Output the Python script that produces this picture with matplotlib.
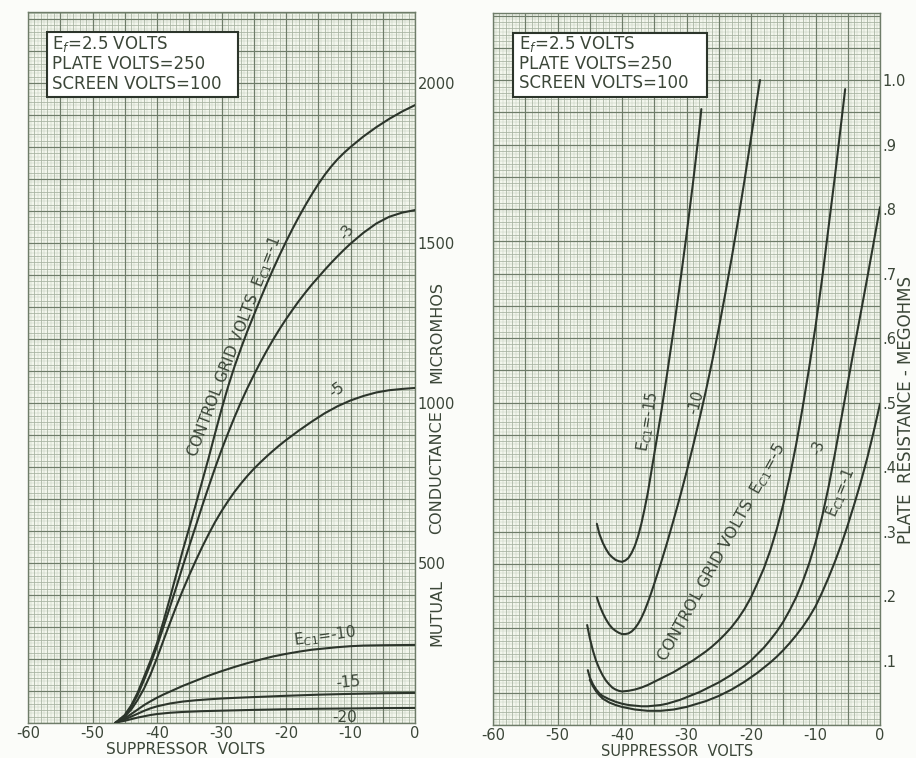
import numpy as np
import matplotlib
matplotlib.use("Agg")
import matplotlib.pyplot as plt
from matplotlib.patches import Rectangle

# --- data --------------------------------------------------------------
# left: mutual conductance (micromhos) vs suppressor volts, one curve per Ec1
gm_m1_x = [-46.5, -46, -45, -44, -43, -42, -41, -40, -39, -38, -37, -36, -35, -34, -33, -32, -31, -30,
           -29, -28, -27, -26, -25, -24, -23, -22, -21, -20, -19, -18, -17, -16, -15, -14, -13, -12,
           -11, -10, -8, -6, -4, -2, 0]
gm_m1_y = [0, 8, 25, 55, 95, 145, 195, 250, 318, 390, 465, 540, 610, 682, 755, 828, 905, 980,
           1050, 1113, 1170, 1224, 1274, 1324, 1372, 1418, 1462, 1504, 1544, 1582, 1618, 1652, 1684, 1713, 1739, 1762,
           1782, 1800, 1833, 1862, 1888, 1911, 1931]
gm_m3_x = [-46.5, -46, -45, -44, -43, -42, -41, -40, -39, -38, -37, -36, -35, -34, -33, -32, -31, -30,
           -29, -28, -27, -26, -25, -24, -23, -22, -21, -20, -19, -18, -17, -16, -15, -14, -13, -12,
           -11, -10, -8, -6, -4, -2, 0]
gm_m3_y = [0, 7, 22, 50, 88, 135, 185, 240, 300, 362, 425, 490, 553, 615, 678, 738, 797, 853,
           905, 955, 1002, 1046, 1087, 1126, 1163, 1198, 1231, 1262, 1291, 1319, 1345, 1370, 1393, 1416, 1438, 1459,
           1479, 1498, 1532, 1561, 1582, 1595, 1603]
gm_m5_x = [-46.5, -46, -45, -44, -43, -42, -41, -40, -39, -38, -37, -36, -35, -34, -33, -32, -31, -30,
           -29, -28, -27, -26, -25, -24, -23, -22, -21, -20, -18, -16, -14, -12, -10, -8, -6, -4, -2, 0]
gm_m5_y = [0, 6, 20, 42, 72, 108, 152, 203, 258, 312, 365, 415, 462, 507, 550, 590, 628, 662,
           693, 722, 748, 772, 794, 814, 833, 851, 868, 884, 914, 942, 968, 990, 1008, 1022, 1033, 1040, 1044, 1047]
gm_m10_x = [-46.5, -46, -45, -44, -43, -42, -41, -40, -39, -38, -37, -36, -35, -34, -33, -32, -31, -30,
            -28, -26, -24, -22, -20, -18, -16, -14, -12, -10, -8, -5, 0]
gm_m10_y = [0, 5, 15, 28, 42, 56, 68, 79, 89, 98, 107, 116, 124, 132, 140, 148, 155, 162,
            175, 187, 198, 208, 216, 223, 229, 233, 237, 240, 242, 243, 244]
gm_m15_x = [-46.5, -46, -45, -44, -43, -42, -41, -40, -38, -36, -34, -32, -30, -28, -25, -20, -15, -10, -5, 0]
gm_m15_y = [0, 4, 11, 20, 29, 38, 46, 52, 61, 67, 71, 74, 76.5, 78.5, 81, 85, 88.5, 91, 93, 94]
gm_m20_x = [-46.5, -46, -45, -44, -43, -42, -41, -40, -38, -36, -33, -30, -25, -20, -15, -10, -5, 0]
gm_m20_y = [0, 3, 7, 12, 17, 21, 25, 28, 32, 34.5, 37, 38.5, 41, 43, 44.5, 45.5, 46.5, 47]

# right: plate resistance (megohms) vs suppressor volts, one curve per Ec1
rp_m15_x = [-43.9, -43.5, -43, -42.5, -42, -41.5, -41, -40.5, -40, -39.5, -39, -38.5, -38, -37.5, -37,
            -36.5, -36, -35.5, -35, -34, -33, -32, -31, -30, -29, -28, -27.7]
rp_m15_y = [0.312, 0.296, 0.283, 0.273, 0.265, 0.26, 0.256, 0.254, 0.253, 0.255, 0.259, 0.267, 0.278, 0.293, 0.312,
            0.335, 0.36, 0.39, 0.42, 0.48, 0.545, 0.613, 0.685, 0.76, 0.84, 0.925, 0.955]
rp_m10_x = [-43.9, -43.5, -43, -42.5, -42, -41.5, -41, -40.5, -40, -39.5, -39, -38.5, -38, -37.5, -37,
            -36.5, -36, -35.5, -35, -34, -33, -32, -31, -30, -29, -28, -27, -26, -25, -24, -23, -22,
            -21, -20, -19, -18.6]
rp_m10_y = [0.198, 0.186, 0.174, 0.164, 0.156, 0.15, 0.146, 0.143, 0.141, 0.141, 0.142, 0.145, 0.15, 0.157, 0.166,
            0.177, 0.19, 0.204, 0.219, 0.25, 0.283, 0.318, 0.354, 0.392, 0.432, 0.474, 0.518, 0.565, 0.615, 0.668, 0.724, 0.783,
            0.845, 0.91, 0.975, 1.0]
rp_m5_x = [-45.4, -45, -44.5, -44, -43.5, -43, -42.5, -42, -41.5, -41, -40.5, -40, -39, -38, -37, -36, -35,
           -34, -33, -32, -31, -30, -29, -28, -27, -26, -25, -24, -23, -22, -21, -20, -19, -18, -17, -16,
           -15, -14, -13, -12, -11, -10, -9, -8, -7, -6, -5.4]
rp_m5_y = [0.155, 0.135, 0.115, 0.099, 0.087, 0.077, 0.069, 0.063, 0.058, 0.055, 0.053, 0.052, 0.053, 0.055, 0.058, 0.062, 0.067,
           0.072, 0.077, 0.082, 0.088, 0.094, 0.1, 0.107, 0.114, 0.122, 0.131, 0.141, 0.152, 0.165, 0.18, 0.198, 0.22, 0.243, 0.271, 0.304,
           0.342, 0.385, 0.435, 0.492, 0.553, 0.618, 0.69, 0.77, 0.85, 0.935, 0.986]
rp_m3_x = [-45.3, -45, -44.5, -44, -43.5, -43, -42, -41, -40, -39, -38, -37, -36, -35, -34, -33, -32, -31,
           -30, -29, -28, -27, -26, -25, -24, -23, -22, -21, -20, -19, -18, -17, -16, -15, -14, -13, -12,
           -11, -10, -9, -8, -7, -6, -5, -4, -3, -2, -1, 0]
rp_m3_y = [0.085, 0.074, 0.063, 0.055, 0.049, 0.045, 0.04, 0.036, 0.033, 0.031, 0.03, 0.029, 0.029, 0.03, 0.031, 0.033, 0.036, 0.039,
           0.043, 0.047, 0.051, 0.056, 0.061, 0.066, 0.072, 0.078, 0.085, 0.092, 0.1, 0.11, 0.12, 0.132, 0.145, 0.16, 0.178, 0.198, 0.222,
           0.25, 0.283, 0.322, 0.368, 0.42, 0.475, 0.53, 0.585, 0.638, 0.692, 0.747, 0.803]
rp_m1_x = [-45, -44.5, -44, -43.5, -43, -42, -41, -40, -39, -38, -37, -36, -35, -34, -33, -32, -31, -30,
           -29, -28, -27, -26, -25, -24, -23, -22, -21, -20, -19, -18, -17, -16, -15, -14, -13, -12, -11,
           -10, -9, -8, -7, -6, -5, -4, -3, -2, -1, 0]
rp_m1_y = [0.07, 0.06, 0.052, 0.046, 0.041, 0.035, 0.031, 0.028, 0.026, 0.024, 0.023, 0.022, 0.022, 0.022, 0.023, 0.024, 0.026, 0.028,
           0.031, 0.034, 0.037, 0.041, 0.045, 0.05, 0.055, 0.061, 0.067, 0.074, 0.081, 0.089, 0.097, 0.106, 0.116, 0.127, 0.139, 0.152, 0.167,
           0.184, 0.205, 0.228, 0.253, 0.28, 0.31, 0.342, 0.376, 0.413, 0.454, 0.498]

x_ticks = [-60, -50, -40, -30, -20, -10, 0]
gm_ticks = [500, 1000, 1500, 2000]
rp_ticks = [0.1, 0.2, 0.3, 0.4, 0.5, 0.6, 0.7, 0.8, 0.9, 1.0]
rp_labels = ['.1', '.2', '.3', '.4', '.5', '.6', '.7', '.8', '.9', '1.0']
box_lines = ['E$_f$=2.5 VOLTS', 'PLATE VOLTS=250', 'SCREEN VOLTS=100']

INK = '#2c352b'
TXT = '#3b4638'
PAPER = '#f3f6ed'
FINE = '#c4cebd'
MED = '#a5b19f'
HEAVY = '#6e7c69'

plt.rcParams['font.family'] = ['DejaVu Sans']

fig = plt.figure(figsize=(9.16, 7.58), dpi=100, facecolor='#fbfcf9')
axL = fig.add_axes([28 / 916, 1 - 723 / 758, 387 / 916, 711 / 758])
axR = fig.add_axes([493 / 916, 1 - 725 / 758, 387 / 916, 712 / 758])


def graph_paper(ax, ytop, ystep):
    ax.set_facecolor(PAPER)
    ax.set_xlim(-60, 0)
    ax.set_ylim(0, ytop)
    xs = np.arange(-60, 0.01, 0.5)
    ys = np.arange(0, ytop, ystep / 2)
    for i, x in enumerate(xs):
        if i % 10 == 0:
            ax.axvline(x, color=HEAVY, lw=0.9, zorder=1)
        elif i % 2 == 0:
            ax.axvline(x, color=MED, lw=0.55, zorder=0.8)
        else:
            ax.axvline(x, color=FINE, lw=0.35, zorder=0.6)
    for i, y in enumerate(ys):
        if i % 10 == 0:
            ax.axhline(y, color=HEAVY, lw=0.9, zorder=1)
        elif i % 2 == 0:
            ax.axhline(y, color=MED, lw=0.55, zorder=0.8)
        else:
            ax.axhline(y, color=FINE, lw=0.35, zorder=0.6)
    for s in ax.spines.values():
        s.set_color(HEAVY)
        s.set_linewidth(1.0)
    ax.set_xticks(x_ticks)
    ax.set_xticklabels(['%d' % t for t in x_ticks])
    ax.yaxis.tick_right()
    ax.tick_params(length=0, labelsize=10.5, labelcolor=TXT, pad=2)


def text_box(ax, bx, by, bw, bh, tx, tys):
    ax.add_patch(Rectangle((bx, by), bw, bh, transform=ax.transAxes,
                           facecolor='white', edgecolor=INK, lw=1.5, zorder=5))
    for line, ty in zip(box_lines, tys):
        ax.text(tx, ty, line, transform=ax.transAxes, fontsize=12,
                color=TXT, va='center', ha='left', zorder=6)


def curve(ax, xs_, ys_):
    ax.plot(xs_, ys_, color=INK, lw=1.5, zorder=3,
            solid_capstyle='round', solid_joinstyle='round')


# ---- left panel ----
graph_paper(axL, 2222, 20)
axL.set_yticks(gm_ticks)
axL.set_yticklabels([str(t) for t in gm_ticks])
for xs_, ys_ in [(gm_m1_x, gm_m1_y), (gm_m3_x, gm_m3_y), (gm_m5_x, gm_m5_y),
                 (gm_m10_x, gm_m10_y), (gm_m15_x, gm_m15_y), (gm_m20_x, gm_m20_y)]:
    curve(axL, xs_, ys_)
text_box(axL, 0.049, 0.880, 0.494, 0.0914, 0.062, [0.955, 0.927, 0.899])

lab = dict(color=TXT, ha='center', va='center', zorder=4)
axL.text(-28.0, 1175, 'CONTROL GRID VOLTS  E$_{C1}$=-1', rotation=69, fontsize=11, **lab)
axL.text(-10.6, 1535, '-3', rotation=55, fontsize=11, **lab)
axL.text(-12.1, 1040, '-5', rotation=35, fontsize=11, **lab)
axL.text(-14.0, 272, 'E$_{C1}$=-10', rotation=8, fontsize=11, **lab)
axL.text(-10.4, 128, '-15', rotation=5, fontsize=11, **lab)
axL.text(-10.9, 18, '-20', rotation=0, fontsize=11, **lab)

# ---- right panel ----
graph_paper(axR, 1.104, 0.01)
axR.set_yticks(rp_ticks)
axR.set_yticklabels(rp_labels)
for xs_, ys_ in [(rp_m15_x, rp_m15_y), (rp_m10_x, rp_m10_y), (rp_m5_x, rp_m5_y),
                 (rp_m3_x, rp_m3_y), (rp_m1_x, rp_m1_y)]:
    curve(axR, xs_, ys_)
text_box(axR, 0.052, 0.8815, 0.501, 0.091, 0.068, [0.957, 0.929, 0.901])

axR.text(-35.9, 0.47, 'E$_{C1}$=-15', rotation=80, fontsize=10.5, **lab)
axR.text(-28.6, 0.50, '-10', rotation=75, fontsize=10.5, **lab)
axR.text(-24.6, 0.268, 'CONTROL GRID VOLTS  E$_{C1}$=-5', rotation=61, fontsize=11.5, **lab)
axR.text(-9.6, 0.43, '-3', rotation=72, fontsize=10.5, **lab)
axR.text(-6.0, 0.36, 'E$_{C1}$=-1', rotation=68, fontsize=10.5, **lab)

# ---- axis titles ----
fig.text(186 / 916, 1 - 749 / 758, 'SUPPRESSOR  VOLTS', fontsize=11, color=TXT, ha='center', va='center')
fig.text(677 / 916, 1 - 751.5 / 758, 'SUPPRESSOR  VOLTS', fontsize=10.5, color=TXT, ha='center', va='center')
for word, yc in [('MUTUAL', 613), ('CONDUCTANCE', 472), ('MICROMHOS', 332)]:
    fig.text(437 / 916, 1 - yc / 758, word, fontsize=11.5, color=TXT,
             ha='center', va='center', rotation=90)
fig.text(906 / 916, 1 - 410 / 758, 'PLATE  RESISTANCE - MEGOHMS', fontsize=12,
         color=TXT, ha='center', va='center', rotation=90)

fig.savefig('out.png', dpi=100, facecolor=fig.get_facecolor())
